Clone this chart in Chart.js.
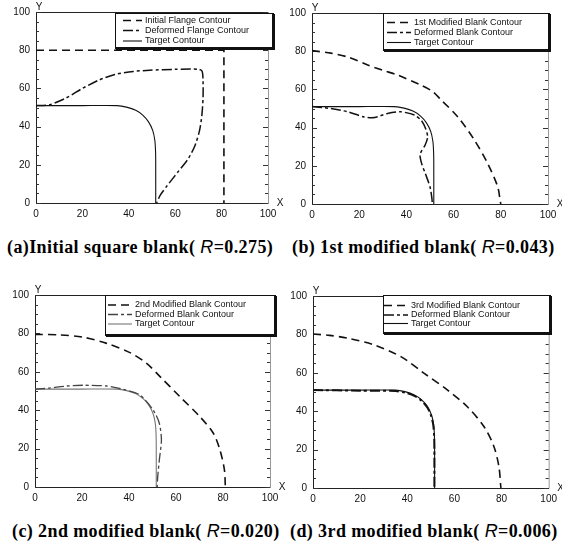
<!DOCTYPE html>
<html>
<head>
<meta charset="utf-8">
<script src="https://cdn.jsdelivr.net/npm/chart.js@4.4.0/dist/chart.umd.min.js"></script>
<style>
  body { margin: 0; background: #fff; }
  #wrap { position: relative; width: 562px; height: 545px; overflow: hidden; background: #fff; }
  #wrap canvas { position: absolute; }
  .cap { position: absolute; font: bold 18px "Liberation Serif", "Times New Roman", serif; letter-spacing: 0.4px; white-space: nowrap; color: #000; }
  .cap i { font-family: "Liberation Sans", Arial, sans-serif; font-weight: normal; }
</style>
</head>
<body>
<div id="wrap">
  <div class="cap" id="capA" style="left:7px; top:237px;">(a)Initial square blank( <i>R</i>=0.275)</div>
  <div class="cap" id="capB" style="left:292px; top:237px;">(b) 1st modified blank( <i>R</i>=0.043)</div>
  <div class="cap" id="capC" style="left:12px; top:521px;">(c) 2nd modified blank( <i>R</i>=0.020)</div>
  <div class="cap" id="capD" style="left:290px; top:521px;">(d) 3rd modified blank( <i>R</i>=0.006)</div>
</div>
<script>
// axis ticks
const axisTicks = [0, 20, 40, 60, 80, 100];

// legend labels per panel
const labelsA = ['Initial Flange Contour', 'Deformed Flange Contour', 'Target Contour'];
const labelsB = ['1st Modified Blank Contour', 'Deformed Blank Contour', 'Target Contour'];
const labelsC = ['2nd Modified Blank Contour', 'Deformed Blank Contour', 'Target Contour'];
const labelsD = ['3rd Modified Blank Contour', 'Deformed Blank Contour', 'Target Contour'];

// target contour (same in all panels)
const targetContour = [[0,51],[20,51],[35,51],[39,50.2],[43,48.5],[46,46],[48.5,42.5],[50.3,38],[51.2,33],[51.5,28],[51.6,22],[51.6,0]];

// (a) initial square blank
const initialBlank = [[0,80],[81,80],[81,0]];
const deformedA = [[0,51],[6,51.5],[13,55],[20,60],[27,64.3],[34,67.3],[42,68.9],[49,69.5],[60,70],[70,70],[71.6,69],[72,64],[72,55],[71.5,46],[70.5,38],[68.5,30],[65.5,23],[61,16],[56.5,9],[53.5,4],[52,0]];

// (b) 1st modified blank
const modified1 = [[0,80.3],[8,79],[15,77],[23.6,72.8],[30,70],[36.3,67.5],[46,62.3],[51,59],[54.7,54.5],[61.7,45.7],[68.8,33.5],[74.4,21.3],[78.7,9],[79.7,2],[80,0]];
const deformedB = [[0,51],[8,50],[15,48.3],[22,45.6],[26.5,45.3],[32,47.4],[37.5,48.3],[43.4,46.6],[46.5,43.5],[48.3,39],[49,35],[48,31],[45.8,26],[46.5,21],[48,16],[50,9],[50.8,3],[51,0]];

// (c) 2nd modified blank
const modified2 = [[0,79.5],[10.6,79.2],[20.6,78],[30.5,74.8],[40.4,70],[47.5,64.4],[53.2,57.5],[61.7,47],[70.2,36.6],[75.9,28],[78.7,19.3],[80.6,8.9],[81,0]];
const deformedC = [[0,50.9],[6,51.5],[13.5,52.6],[20.6,53],[30.5,52.6],[37.6,50.9],[44.7,47.9],[50.3,40.1],[52.9,33.2],[53.8,24.5],[52.9,14],[52.2,5],[52,0]];

// (d) 3rd modified blank
const modified3 = [[0,80.2],[7,79.5],[14.7,78],[26,74.5],[37.3,68.4],[47.2,59.7],[57.1,51],[65.5,42.3],[72.6,31.9],[76.8,21.5],[78.9,11.1],[79.7,0.5],[79.8,0]];
const deformedD = [[0,51],[20,50.7],[35,50.5],[39,49.7],[43,48],[46,45.5],[48.5,42],[50,38],[51,33],[51.4,27],[51.5,20],[51.5,0]];

const toXY = pts => pts.map(p => ({ x: p[0], y: p[1] }));

// frame, inward ticks, axis letters
const framePlugin = {
  id: 'frame',
  beforeDatasetsDraw(chart) {
    const { ctx, chartArea: a, scales: { x, y } } = chart;
    ctx.save();
    ctx.lineWidth = 1;
    ctx.strokeStyle = '#222';
    ctx.beginPath();
    ctx.moveTo(a.left + 0.5, a.bottom + 0.5);
    ctx.lineTo(a.left + 0.5, a.top + 0.5);
    ctx.lineTo(a.right + 0.5, a.top + 0.5);
    ctx.moveTo(a.left, a.bottom + 0.5);
    ctx.lineTo(a.right + 0.5, a.bottom + 0.5);
    ctx.stroke();
    ctx.strokeStyle = '#999';
    ctx.beginPath();
    ctx.moveTo(a.right + 0.5, a.top);
    ctx.lineTo(a.right + 0.5, a.bottom);
    ctx.stroke();
    ctx.strokeStyle = '#333';
    ctx.beginPath();
    for (let v = 0; v <= 100; v += 5) {
      const py = Math.round(y.getPixelForValue(v)) + 0.5;
      const len = v % 20 === 0 ? 5 : 3;
      ctx.moveTo(a.left, py); ctx.lineTo(a.left + len, py);
      ctx.moveTo(a.right, py); ctx.lineTo(a.right - len, py);
    }
    ctx.stroke();
    ctx.fillStyle = '#111';
    ctx.font = '10px "Liberation Sans", Arial, sans-serif';
    ctx.textAlign = 'center';
    ctx.textBaseline = 'middle';
    ctx.fillText('Y', a.left + 3, a.top - 5);
    ctx.fillText('X', a.right + 12, a.bottom);
    ctx.restore();
  }
};

// legend box drawn inside the panel
const boxLegend = {
  id: 'boxLegend',
  afterDraw(chart, args, opts) {
    const { ctx } = chart;
    const b = opts.box;
    ctx.save();
    ctx.fillStyle = '#fff';
    ctx.fillRect(b.x, b.y, b.w, b.h);
    ctx.fillStyle = '#111';
    ctx.fillRect(b.x + b.w - 1, b.y + 1, 3, b.h + 1);
    ctx.fillRect(b.x + 1, b.y + b.h - 1, b.w + 1, 3);
    ctx.strokeStyle = '#111';
    ctx.lineWidth = 1;
    ctx.strokeRect(b.x + 0.5, b.y + 0.5, b.w, b.h);
    ctx.font = '9px "Liberation Sans Narrow", "Liberation Sans", Arial, sans-serif';
    ctx.textBaseline = 'middle';
    chart.data.datasets.forEach((ds, i) => {
      const ry = b.y + b.rows[i];
      ctx.strokeStyle = ds.borderColor;
      ctx.lineWidth = Math.min(ds.borderWidth, 1.5);
      ctx.setLineDash(ds.borderDash || []);
      ctx.beginPath();
      ctx.moveTo(b.x + b.sx, ry);
      ctx.lineTo(b.x + b.sx + b.sw, ry);
      ctx.stroke();
      ctx.setLineDash([]);
      ctx.fillStyle = '#111';
      ctx.fillText(ds.label, b.x + b.sx + b.sw + 3, ry);
    });
    ctx.restore();
  }
};

function makePanel(cfg) {
  const cv = document.createElement('canvas');
  cv.width = cfg.w; cv.height = cfg.h;
  cv.style.left = cfg.left + 'px';
  cv.style.top = cfg.top + 'px';
  cv.style.width = cfg.w + 'px';
  cv.style.height = cfg.h + 'px';
  document.getElementById('wrap').appendChild(cv);

  const outer = cfg.outer, deformed = cfg.deformed;
  const datasets = [
    { label: cfg.labels[0], data: toXY(outer), borderColor: '#111', borderWidth: 1.6, borderDash: [8, 5], tension: cfg.outerTension },
    { label: cfg.labels[1], data: toXY(deformed), borderColor: cfg.defColor, borderWidth: cfg.defWidth, borderDash: cfg.defDash, tension: 0.25 },
    { label: cfg.labels[2], data: toXY(targetContour), borderColor: cfg.tgtColor, borderWidth: 1.1, borderDash: [], tension: 0.2 }
  ];
  datasets.forEach(d => { d.showLine = true; d.pointRadius = 0; d.fill = false; });

  const tickFont = { family: '"Liberation Sans", Arial, sans-serif', size: 10 };
  return new Chart(cv, {
    type: 'scatter',
    data: { datasets },
    options: {
      responsive: false,
      animation: false,
      events: [],
      layout: { padding: { left: 0, top: cfg.areaTop, right: cfg.w - cfg.areaRight, bottom: cfg.h - cfg.areaBottom - 18 } },
      plugins: {
        legend: { display: false },
        tooltip: { enabled: false },
        boxLegend: { box: cfg.legend }
      },
      scales: {
        x: {
          type: 'linear', min: 0, max: 100,
          afterBuildTicks: s => { s.ticks = axisTicks.map(v => ({ value: v })); },
          afterFit: s => { s.height = 18; },
          grid: { display: false, drawTicks: false },
          border: { display: false },
          ticks: { color: '#111', font: tickFont, padding: 5, maxRotation: 0 }
        },
        y: {
          type: 'linear', min: 0, max: 100,
          afterBuildTicks: s => { s.ticks = axisTicks.map(v => ({ value: v })); },
          afterFit: s => { s.width = cfg.areaLeft; },
          grid: { display: false, drawTicks: false },
          border: { display: false },
          ticks: { color: '#111', font: tickFont, padding: 6 }
        }
      }
    },
    plugins: [framePlugin, boxLegend]
  });
}

makePanel({ left: 0, top: 0, w: 290, h: 232, areaLeft: 36, areaRight: 268, areaTop: 10, areaBottom: 203,
  labels: labelsA, outer: initialBlank, outerTension: 0, deformed: deformedA,
  defColor: '#111', defWidth: 1.5, defDash: [10, 3, 3, 3], tgtColor: '#111',
  legend: { x: 115, y: 13, w: 158, h: 35, rows: [7.5, 17.5, 28], sx: 8, sw: 19 } });

makePanel({ left: 281, top: 0, w: 281, h: 232, areaLeft: 31, areaRight: 267, areaTop: 13, areaBottom: 204,
  labels: labelsB, outer: modified1, outerTension: 0.3, deformed: deformedB,
  defColor: '#111', defWidth: 1.5, defDash: [10, 3, 3, 3], tgtColor: '#111',
  legend: { x: 102, y: 13, w: 166, h: 37, rows: [9.5, 19.5, 29.5], sx: 4, sw: 24 } });

makePanel({ left: 0, top: 280, w: 290, h: 232, areaLeft: 35, areaRight: 270, areaTop: 15, areaBottom: 207,
  labels: labelsC, outer: modified2, outerTension: 0.3, deformed: deformedC,
  defColor: '#444', defWidth: 1.3, defDash: [10, 3, 3, 3], tgtColor: '#777',
  legend: { x: 105, y: 15, w: 170, h: 40, rows: [10, 19.5, 29], sx: 3, sw: 24 } });

makePanel({ left: 281, top: 280, w: 281, h: 232, areaLeft: 32, areaRight: 268, areaTop: 16, areaBottom: 208,
  labels: labelsD, outer: modified3, outerTension: 0.3, deformed: deformedD,
  defColor: '#111', defWidth: 2, defDash: [10, 3, 3, 3], tgtColor: '#111',
  legend: { x: 102, y: 15, w: 167, h: 38, rows: [10.5, 20, 28.5], sx: 1, sw: 24 } });
</script>
</body>
</html>
